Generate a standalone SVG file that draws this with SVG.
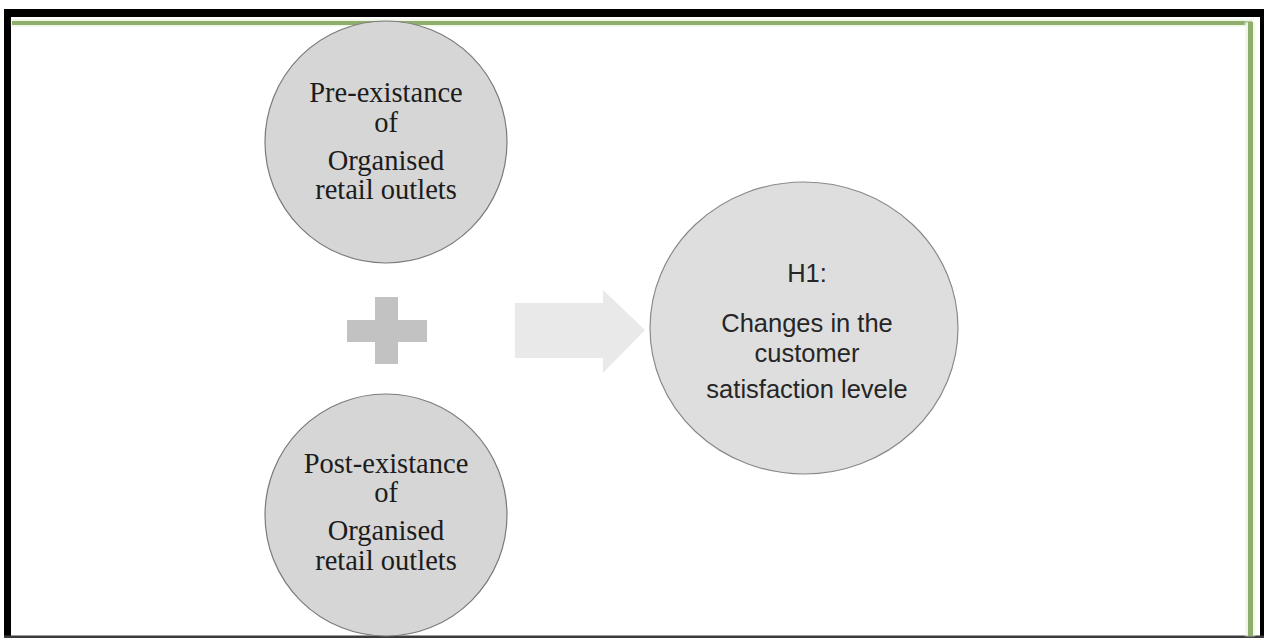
<svg xmlns="http://www.w3.org/2000/svg" width="1264" height="638" viewBox="0 0 1264 638">
  <style>
    .bubble { fill: #d6d6d6; stroke: #7a7a7a; stroke-width: 1.2; }
    .bubble-light { fill: #dedede; stroke: #8a8a8a; stroke-width: 1.2; }
    .serif { font-family: "Liberation Serif", "Times New Roman", serif; font-size: 28.5px; fill: #1c1c1c; text-anchor: middle; }
    .sans { font-family: "Liberation Sans", Arial, sans-serif; font-size: 25.5px; fill: #262626; text-anchor: middle; }
  </style>
  <defs>
    <filter id="soft" x="-5%" y="-5%" width="110%" height="110%">
      <feGaussianBlur stdDeviation="0.8"/>
    </filter>
  </defs>

  <!-- page background -->
  <rect x="0" y="0" width="1264" height="638" fill="#ffffff"/>

  <!-- outer black frame -->
  <g id="frame">
    <rect x="4" y="9" width="1260" height="8" fill="#000000"/>
    <rect x="4" y="9" width="7" height="629" fill="#000000"/>
    <rect x="1260" y="9" width="4" height="629" fill="#000000"/>
    <rect x="4" y="635.5" width="1260" height="2.5" fill="#3a3a3a"/>
    <!-- inner green page border -->
    <rect x="12" y="19" width="1242" height="8" fill="#eef6e4" filter="url(#soft)"/>
    <rect x="12" y="21" width="1240" height="4" fill="#8fae6e"/>
    <rect x="1245" y="22" width="10" height="614" fill="#eef6e4" filter="url(#soft)"/>
    <rect x="1248" y="22" width="5" height="614" fill="#8fae6e"/>
    <rect x="12" y="27" width="1233" height="608" fill="#ffffff"/>
  </g>

  <!-- connectors: plus sign and block arrow -->
  <g id="connectors">
    <g id="plus" fill="#c2c2c2">
      <rect x="347" y="320" width="80" height="22"/>
      <rect x="375" y="297" width="23" height="67"/>
    </g>
    <polygon id="arrow" fill="#e9e9e9" points="515,303 603,303 603,290 645,330 603,373 603,358 515,358"/>
  </g>

  <g id="node-pre">
    <circle class="bubble" cx="386" cy="142" r="121"/>
    <text class="serif" x="386" y="102">Pre-existance</text>
    <text class="serif" x="386" y="132">of</text>
    <text class="serif" x="386" y="170">Organised</text>
    <text class="serif" x="386" y="199">retail outlets</text>
  </g>

  <g id="node-post">
    <circle class="bubble" cx="386" cy="515" r="121"/>
    <text class="serif" x="386" y="473">Post-existance</text>
    <text class="serif" x="386" y="502">of</text>
    <text class="serif" x="386" y="540">Organised</text>
    <text class="serif" x="386" y="570">retail outlets</text>
  </g>

  <g id="node-h1">
    <ellipse class="bubble-light" cx="804" cy="328" rx="154" ry="146"/>
    <text class="sans" x="807" y="282">H1:</text>
    <text class="sans" x="807" y="332">Changes in the</text>
    <text class="sans" x="807" y="362">customer</text>
    <text class="sans" x="807" y="398">satisfaction levele</text>
  </g>
</svg>
